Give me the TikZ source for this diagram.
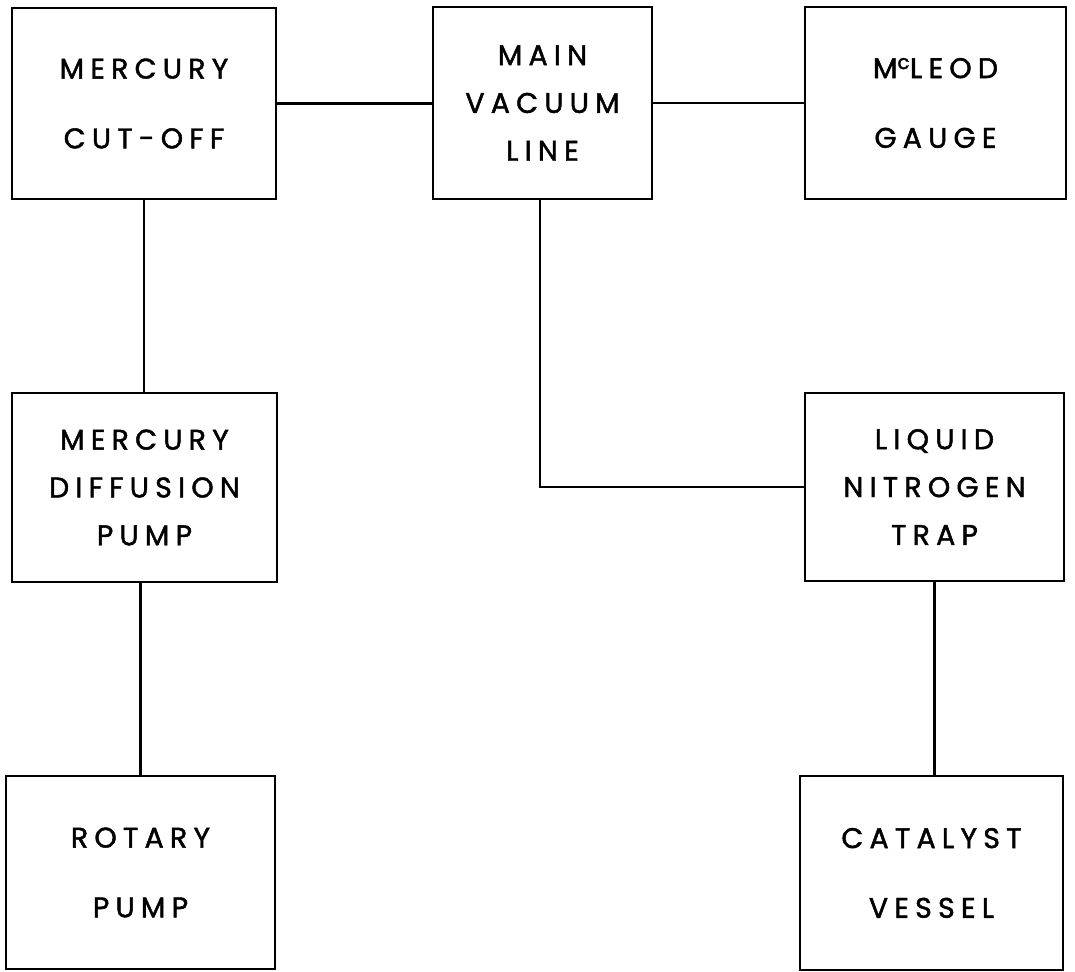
\documentclass[tikz,border=0pt]{standalone}
\usepackage{fontspec}
\setmainfont{Poppins}[LetterSpace=22,FakeBold=1.6]
\begin{document}
\begin{tikzpicture}[x=1bp,y=-1bp,
  unit/.style={draw,line width=2.6bp,inner sep=0pt,align=center,
    font=\fontsize{28.5}{70}\selectfont},
  unitthree/.style={unit,font=\fontsize{28.5}{48}\selectfont},
  pipe/.style={line width=2.4bp}]
\useasboundingbox (0,0) rectangle (1075,972);
\node[unit,minimum width=264bp,minimum height=191bp] (cut) at (144,103.5) {MERCURY\\CUT-OFF};
\node[unitthree,minimum width=219bp,minimum height=192bp] (main) at (542.5,103) {MAIN\\VACUUM\\LINE};
\node[unit,minimum width=261bp,minimum height=192bp] (mcl) at (935.5,103) {M\textsuperscript{c}LEOD\\GAUGE};
\node[unitthree,minimum width=265bp,minimum height=189bp] (diff) at (144.5,487.5) {MERCURY\\DIFFUSION\\PUMP};
\node[unitthree,minimum width=259bp,minimum height=188bp] (trap) at (934.5,487) {LIQUID\\NITROGEN\\TRAP};
\node[unit,minimum width=269bp,minimum height=193bp] (rot) at (140.5,872.5) {ROTARY\\PUMP};
\node[unit,minimum width=263bp,minimum height=194bp] (cat) at (931.5,873) {CATALYST\\VESSEL};
\draw[pipe] (cut.east) -- (cut.east -| main.west);
\draw[pipe] (main.east) -- (mcl.west);
\draw[pipe] (cut.south) -- (cut.south |- diff.north);
\draw[pipe] (rot.north |- diff.south) -- (rot.north);
\draw[pipe] ([xshift=-2.5]main.south) |- (trap.west);
\draw[pipe] (trap.south) -- (trap.south |- cat.north);
\end{tikzpicture}
\end{document}
